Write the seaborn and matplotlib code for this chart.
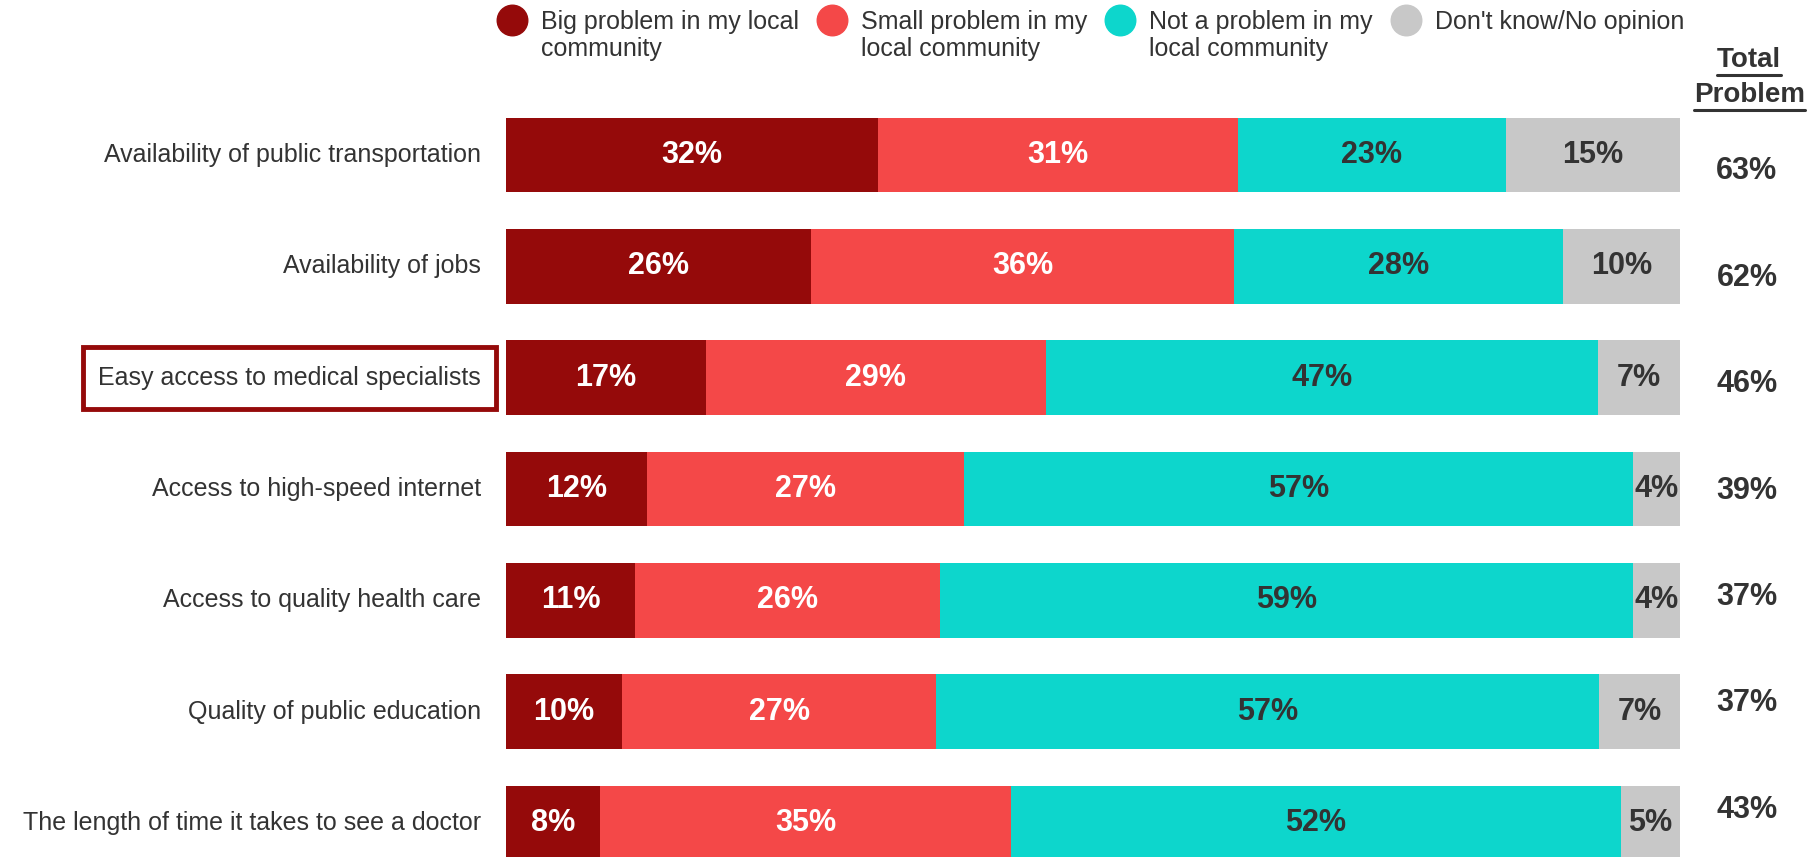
import numpy as np
import pandas as pd
import matplotlib
matplotlib.use("Agg")
import matplotlib.pyplot as plt
import seaborn as sns
from matplotlib.lines import Line2D
from matplotlib.patches import Rectangle
from matplotlib.transforms import blended_transform_factory

categories = ["Availability of public transportation", "Availability of jobs",
              "Easy access to medical specialists", "Access to high-speed internet",
              "Access to quality health care", "Quality of public education",
              "The length of time it takes to see a doctor"]
big = [32, 26, 17, 12, 11, 10, 8]
small = [31, 36, 29, 27, 26, 27, 35]
not_prob = [23, 28, 47, 57, 59, 57, 52]
dont_know = [15, 10, 7, 4, 4, 7, 5]
total_problem = [63, 62, 46, 39, 37, 37, 43]
series = ["Big problem in my local\ncommunity", "Small problem in my\nlocal community",
          "Not a problem in my\nlocal community", "Don't know/No opinion"]
colors = ["#950A0A", "#F44848", "#0DD6CC", "#C8C8C8"]
dark = "#333333"

sns.set_style("white")
plt.rcParams['font.family'] = ['Liberation Sans', 'DejaVu Sans']

W, H = 1820, 857
df = pd.DataFrame({"category": categories, "big": big, "small": small,
                   "not": not_prob, "dk": dont_know})
vals = df[["big", "small", "not", "dk"]].to_numpy(float)
shares = vals / vals.sum(axis=1, keepdims=True) * 100
cum = shares.cumsum(axis=1)

fig = plt.figure(figsize=(W / 100, H / 100), dpi=100)
ax = fig.add_axes([506 / W, 0, (1680 - 506) / W, 1])

# stacked bars: draw cumulative totals back to front
for j in reversed(range(4)):
    sns.barplot(x=cum[:, j], y=categories, color=colors[j], width=0.67,
                saturation=1, linewidth=0, orient="h", ax=ax)

for i in range(len(categories)):
    for j in range(4):
        xc = cum[i, j] - shares[i, j] / 2
        ax.text(xc, i, f"{int(vals[i, j])}%", ha="center", va="center",
                fontsize=22, fontweight="bold",
                color="white" if j < 2 else dark)

ax.set_xlim(0, 100)
ax.set_ylim(6.307, -1.393)
ax.set_xticks([])
ax.set_yticks([])
ax.set_xlabel("")
ax.set_ylabel("")
sns.despine(ax=ax, left=True, bottom=True)

tr = blended_transform_factory(ax.transAxes, ax.transData)
cat_txt = []
for i, cat in enumerate(categories):
    cat_txt.append(ax.text(-0.0215, i, cat, transform=tr, ha="right", va="center",
                           fontsize=18, color=dark))

# total problem column
for i, v in enumerate(total_problem):
    ax.text(1.057, 0.147 + 0.956 * i, f"{v}%", transform=tr, ha="center",
            va="center", fontsize=22, fontweight="bold", color=dark, clip_on=False)

hdr = []
for y, word in [(-0.85, "Total"), (-0.535, "Problem")]:
    hdr.append(ax.text(1.059, y, word, transform=tr, ha="center", va="center",
                       fontsize=20, fontweight="bold", color=dark))

fig.canvas.draw()
r = fig.canvas.get_renderer()

# underline the header words
for t in hdr:
    bb = t.get_window_extent(renderer=r)
    fig.add_artist(Line2D([bb.x0 / W, bb.x1 / W], [(bb.y0 - 2) / H] * 2,
                          color=dark, lw=2.2))

# highlight box around one category
bb = cat_txt[2].get_window_extent(renderer=r)
fig.add_artist(Rectangle(((bb.x0 - 15) / W, (bb.y0 - 19) / H),
                         (bb.width + 30) / W, (bb.height + 38) / H,
                         transform=fig.transFigure, fill=False,
                         ec=colors[0], lw=3.5, zorder=5))

# legend: circle aligned with the first line of each label
x = 512
for c, lab in zip(colors, series):
    fig.add_artist(Line2D([x / W], [1 - 20 / H], marker="o", ls="", markersize=22,
                          color=c, transform=fig.transFigure))
    t = fig.text((x + 29) / W, 1 - 10 / H, lab, ha="left", va="top", fontsize=18,
                 color=dark, linespacing=1.17)
    bb = t.get_window_extent(renderer=r)
    x = bb.x1 + 18 + 15

fig.savefig("out.png", dpi=100)
